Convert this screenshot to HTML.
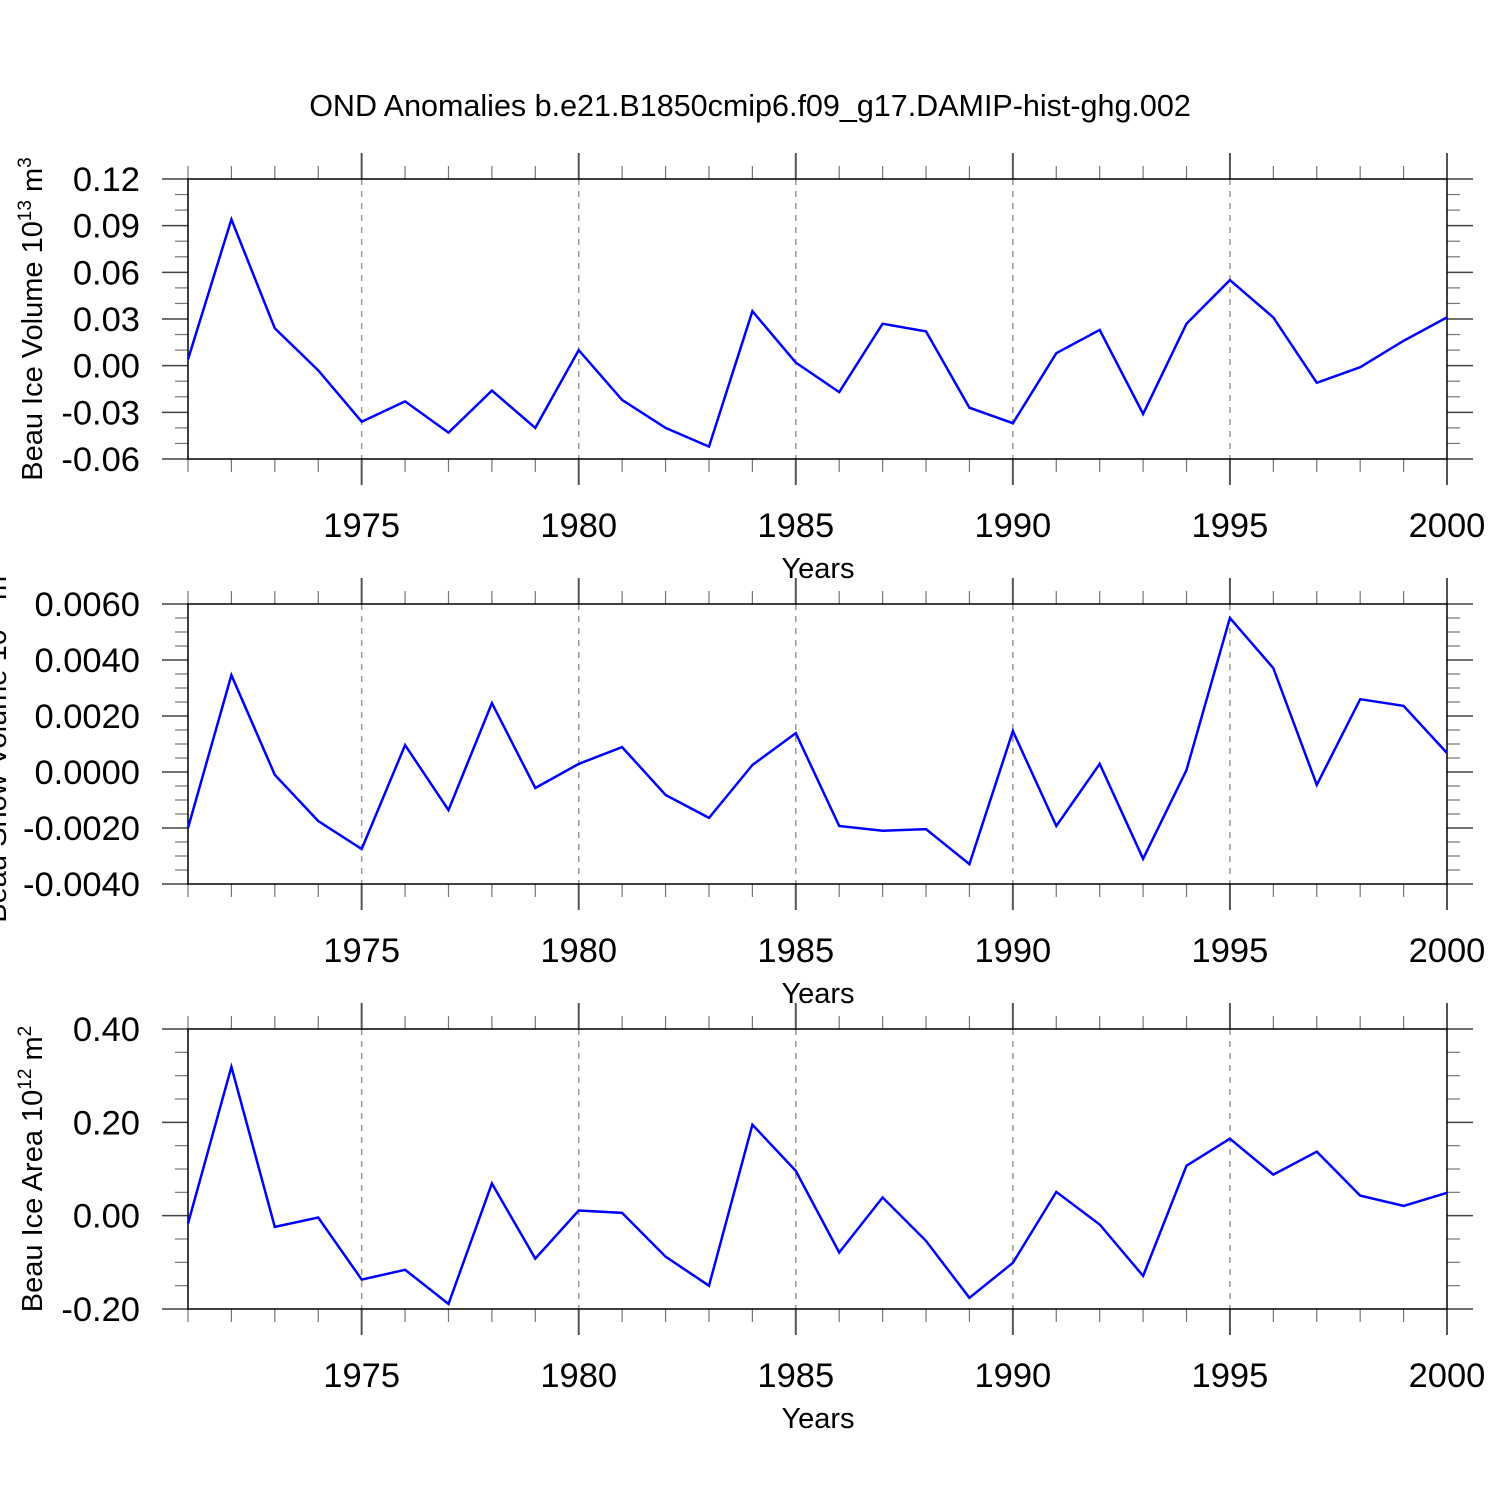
<!DOCTYPE html>
<html><head><meta charset="utf-8"><style>body{margin:0;background:#fff}svg{display:block}</style></head>
<body>
<svg id="c" width="1500" height="1500" xmlns="http://www.w3.org/2000/svg" font-family="Liberation Sans, sans-serif">
<text x="750" y="116" text-anchor="middle" font-size="30.5">OND Anomalies b.e21.B1850cmip6.f09_g17.DAMIP-hist-ghg.002</text>
</svg>
<script>
const years = [1971,1972,1973,1974,1975,1976,1977,1978,1979,1980,1981,1982,1983,1984,1985,1986,1987,1988,1989,1990,1991,1992,1993,1994,1995,1996,1997,1998,1999,2000];
const iceVolume = [0.004,0.094,0.024,-0.003,-0.036,-0.023,-0.043,-0.016,-0.040,0.010,-0.022,-0.040,-0.052,0.035,0.002,-0.017,0.027,0.022,-0.027,-0.037,0.008,0.023,-0.031,0.027,0.055,0.031,-0.011,-0.001,0.016,0.031];
const snowVolume = [-0.0020,0.00346,-0.0001,-0.00175,-0.00275,0.00096,-0.00136,0.00246,-0.00057,0.00029,0.00089,-0.00082,-0.00164,0.00025,0.00139,-0.00193,-0.0021,-0.00204,-0.00329,0.00146,-0.00193,0.00029,-0.0031,0.00007,0.0055,0.00371,-0.00046,0.0026,0.00236,0.00068];
const iceArea = [-0.017,0.319,-0.024,-0.004,-0.137,-0.116,-0.189,0.069,-0.092,0.011,0.006,-0.088,-0.150,0.195,0.096,-0.079,0.039,-0.054,-0.176,-0.101,0.051,-0.019,-0.129,0.107,0.165,0.088,0.137,0.043,0.021,0.049];
const xTickLabels = ["1975","1980","1985","1990","1995","2000"];
const volTicks = ["0.12","0.09","0.06","0.03","0.00","-0.03","-0.06"];
const snowTicks = ["0.0060","0.0040","0.0020","0.0000","-0.0020","-0.0040"];
const areaTicks = ["0.40","0.20","0.00","-0.20"];

const NS="http://www.w3.org/2000/svg";
const svg=document.getElementById('c');
function mk(t,a,p){const e=document.createElementNS(NS,t);for(const k in a)e.setAttribute(k,a[k]);(p||svg).appendChild(e);return e;}
const X0=188,X1=1447;
const xs=y=>X0+(y-1971)/(2000-1971)*(X1-X0);

function panel(id,top,ymin,ymax,ticks,minorN,data,label,sup,unitSup,labelX){
  const g=mk('g',{});
  
  
  const bot=top+280;
  const ys=v=>bot-(v-ymin)/(ymax-ymin)*280;
  for(let yr=1975;yr<2000;yr+=5){
    const l=mk('line',{x1:xs(yr),x2:xs(yr),y1:top,y2:bot,stroke:'#999','stroke-width':1.5,'stroke-dasharray':'6,6'},g);
    
    
  }
  for(let yr=1971;yr<=2000;yr++){
    const maj=yr%5===0, len=maj?26:13, x=xs(yr);
    mk('line',{x1:x,x2:x,y1:top-len,y2:top,stroke:maj?'#555':'#777','stroke-width':maj?2:1.2},g);
    mk('line',{x1:x,x2:x,y1:bot,y2:bot+len,stroke:maj?'#555':'#777','stroke-width':maj?2:1.2},g);
  }
  xTickLabels.forEach(s=>{
    const t=mk('text',{x:xs(+s),y:bot+78,'text-anchor':'middle','font-size':34.5},g);
    t.textContent=s;
    
    
  });
  const xt=mk('text',{x:818,y:bot+119,'text-anchor':'middle','font-size':29},g);
  xt.textContent='Years';
  
  
  const n=ticks.length;
  ticks.forEach((s,i)=>{
    const v=parseFloat(s), y=ys(v);
    mk('line',{x1:X0-26,x2:X0,y1:y,y2:y,stroke:'#444','stroke-width':1.5},g);
    mk('line',{x1:X1,x2:X1+26,y1:y,y2:y,stroke:'#444','stroke-width':1.5},g);
    const t=mk('text',{x:140,y:y+12,'text-anchor':'end','font-size':34.5},g);
    t.textContent=s;
    
    
    if(i<n-1){
      const step=(parseFloat(ticks[i+1])-v)/minorN;
      for(let k=1;k<minorN;k++){
        const yy=ys(v+k*step);
        mk('line',{x1:X0-13,x2:X0,y1:yy,y2:yy,stroke:'#777','stroke-width':1.2},g);
        mk('line',{x1:X1,x2:X1+13,y1:yy,y2:yy,stroke:'#777','stroke-width':1.2},g);
      }
    }
  });
  mk('rect',{x:X0,y:top,width:X1-X0,height:280,fill:'none',stroke:'#000','stroke-width':1.5},g);
  const pts=years.map((yr,i)=>xs(yr).toFixed(1)+','+ys(data[i]).toFixed(1)).join(' ');
  const pl=mk('polyline',{points:pts,fill:'none',stroke:'#0000ff','stroke-width':2.5,'stroke-linejoin':'miter'},g);
  
  
  const cy=top+140;
  const yl=mk('text',{x:labelX,y:cy,'text-anchor':'middle','font-size':29,transform:`rotate(-90 ${labelX} ${cy})`},g);
  
  
  yl.appendChild(document.createTextNode(label+' 10'));
  const s1=mk('tspan',{dy:-11,'font-size':19},yl); s1.textContent=sup;
  const s2=mk('tspan',{dy:11},yl); s2.textContent=' m';
  const s3=mk('tspan',{dy:-11,'font-size':19},yl); s3.textContent=unitSup;
}
panel('ice-volume',179,-0.06,0.12,volTicks,3,iceVolume,'Beau Ice Volume','13','3',42);
panel('snow-volume',604,-0.004,0.006,snowTicks,4,snowVolume,'Beau Snow Volume','13','3',6);
panel('ice-area',1029,-0.2,0.4,areaTicks,4,iceArea,'Beau Ice Area','12','2',42);
</script>
</body></html>
